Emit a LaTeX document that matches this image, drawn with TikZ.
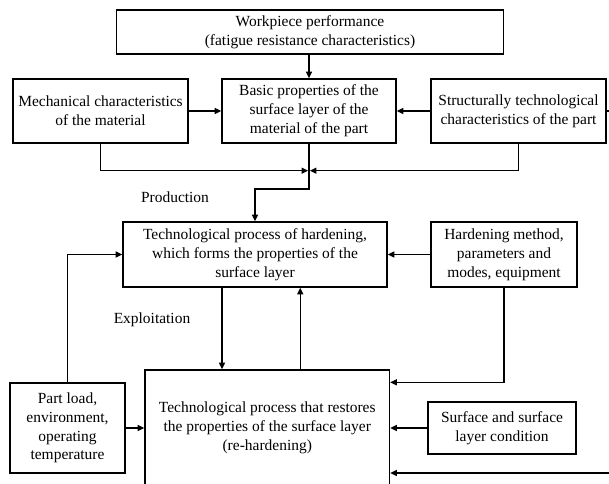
\documentclass[tikz,border=0pt]{standalone}
\usepackage{fontspec}
\setmainfont{Liberation Serif}
\usetikzlibrary{arrows.meta,calc}
\begin{document}
\begin{tikzpicture}[x=0.75pt,y=-0.75pt,
  box/.style={draw,line width=1pt,align=center,inner sep=0pt,
    font=\fontsize{11.6pt}{14.1pt}\selectfont},
  arr/.style={line width=0.95pt,-{Triangle[length=5pt,width=4.5pt]}},
  ln/.style={line width=0.95pt},
  lbl/.style={font=\fontsize{11.6pt}{14.1pt}\selectfont}]
\useasboundingbox (0,0) rectangle (609,484);
\node[box,minimum width=387*0.75pt,minimum height=44*0.75pt] (top) at (310,32)
  {Workpiece performance\\(fatigue resistance characteristics)};
\node[box,minimum width=175*0.75pt,minimum height=64*0.75pt] (mech) at (100.5,111)
  {Mechanical characteristics\\of the material};
\node[box,minimum width=174*0.75pt,minimum height=64*0.75pt] (basic) at (309,111)
  {Basic properties of the\\surface layer of the\\material of the part};
\node[box,minimum width=175*0.75pt,minimum height=64*0.75pt] (struct) at (518.5,111)
  {Structurally technological\\characteristics of the part};
\node[box,minimum width=264*0.75pt,minimum height=65*0.75pt] (hard) at (255,254.5)
  {Technological process of hardening,\\which forms the properties of the\\surface layer};
\node[box,minimum width=146*0.75pt,minimum height=65*0.75pt] (method) at (504,254.5)
  {Hardening method,\\parameters and\\modes, equipment};
\node[box,minimum width=244.5*0.75pt,minimum height=116*0.75pt] (restore) at (267.25,428)
  {Technological process that restores\\the properties of the surface layer\\(re-hardening)};
\node[box,minimum width=115*0.75pt,minimum height=90*0.75pt] (part) at (67.5,428)
  {Part load,\\environment,\\operating\\temperature};
\node[box,minimum width=148*0.75pt,minimum height=52*0.75pt] (surf) at (502,428)
  {Surface and surface\\layer condition};
\node[lbl] (prod) at (175,197) {Production};
\node[lbl] (expl) at (152,320) {Exploitation};
% connectors
\draw[arr] (basic.north |- top.south) -- (basic.north);
\draw[arr] (mech.east) -- (basic.west);
\draw[arr] (struct.west) -- (basic.east);
\coordinate (stub) at (609,111);
\draw[ln] (struct.east) -- (stub);
\coordinate (J) at (309,170.7);
\draw[arr] (mech.south) |- ([xshift=-0.6pt]J);
\draw[arr] (struct.south) |- ([xshift=0.6pt]J);
\coordinate (bend) at (309,189);
\draw[arr] (basic.south) -- (bend) -| (hard.north);
\draw[arr] (method.west) -- (hard.east);
\draw[arr] (part.north) |- (hard.west);
\coordinate (d1) at ($(hard.south)+(-33,0)$);
\draw[arr] (d1) -- (d1 |- restore.north);
\coordinate (u1) at ($(restore.north)+(33,0)$);
\draw[arr] (u1) -- (u1 |- hard.south);
\coordinate (m1) at (restore.east |- part.north);
\draw[arr] (method.south) |- (m1);
\draw[arr] (part.east) -- (restore.west);
\draw[arr] (surf.west) -- (restore.east);
\coordinate (r1) at (612,473);
\draw[arr] (r1) -- (r1 -| restore.east);
\end{tikzpicture}
\end{document}
